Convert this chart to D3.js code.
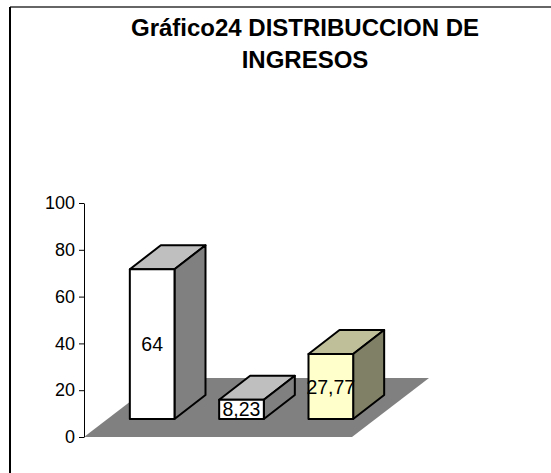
<!DOCTYPE html>
<html>
<head>
<meta charset="utf-8">
<script src="https://cdn.jsdelivr.net/npm/d3@7"></script>
<style>
  body { margin: 0; background: #fff; }
  svg { display: block; font-family: Arial, "Liberation Sans", sans-serif; }
</style>
</head>
<body>
<script>
const categories = ["A", "B", "C"];
const values = [64, 8.23, 27.77];
const labels = ["64", "8,23", "27,77"];
const tickValues = [0, 20, 40, 60, 80, 100];
const titleLines = ["Gráfico24 DISTRIBUCCION DE", "INGRESOS"];

const fronts = ["#ffffff", "#ffffff", "#ffffcc"];

const width = 551;
const height = 473;

// floor depth (back plane offset) and bar depth
const floorDx = 77, floorDy = -59;
const barOffX = 23.5, barOffY = -18;
const barDx = 31, barDy = -24;

const svg = d3.select("body").append("svg")
    .attr("width", width)
    .attr("height", height);

// frame (top and left only visible)
svg.append("line")
    .attr("x1", 10).attr("x2", width).attr("y1", 7).attr("y2", 7)
    .attr("stroke", "#333").attr("stroke-width", 1.5);
svg.append("line")
    .attr("x1", 10).attr("x2", 10).attr("y1", 7).attr("y2", height)
    .attr("stroke", "#000").attr("stroke-width", 2);

// title
svg.append("g")
    .selectAll("text")
    .data(titleLines)
    .join("text")
    .attr("x", 305)
    .attr("y", (d, i) => 36 + i * 32)
    .attr("text-anchor", "middle")
    .attr("font-weight", "bold")
    .attr("font-size", "24px")
    .text(d => d);

const x = d3.scaleBand()
    .domain(categories)
    .range([84, 352])
    .paddingInner(0.5)
    .paddingOuter(0.25);

const y = d3.scaleLinear()
    .domain([0, 100])
    .range([437, 203]);

// floor
const x0 = x.range()[0], x1 = x.range()[1], y0 = y(0);
svg.append("path")
    .attr("d", `M${x0},${y0}L${x1},${y0}L${x1 + floorDx},${y0 + floorDy}L${x0 + floorDx},${y0 + floorDy}Z`)
    .attr("fill", "#808080");

// axis
svg.append("g")
    .attr("transform", `translate(${x0},0)`)
    .call(d3.axisLeft(y).tickValues(tickValues).tickSize(5).tickSizeOuter(0).tickPadding(4))
    .call(g => g.selectAll("text").attr("font-size", "18px").attr("font-family", "Arial, 'Liberation Sans', sans-serif").attr("fill", "#000"))
    .call(g => g.selectAll("line, path").attr("stroke", "#000"));

// bars
const data = categories.map((c, i) => ({c, v: values[i], label: labels[i], color: fronts[i]}));

const bars = svg.append("g")
    .selectAll("g")
    .data(data)
    .join("g");

const shade = (col, k) => {
  const c = d3.rgb(col);
  return d3.rgb(c.r * k, c.g * k, c.b * k).formatHex();
};

bars.each(function(d) {
  const g = d3.select(this);
  const bx = x(d.c) + barOffX;
  const bw = x.bandwidth();
  const top = y(d.v) + barOffY;
  const bot = y(0) + barOffY;

  g.append("path")
      .attr("d", `M${bx},${top}L${bx + barDx},${top + barDy}L${bx + bw + barDx},${top + barDy}L${bx + bw},${top}Z`)
      .attr("fill", shade(d.color, 0.75));
  g.append("path")
      .attr("d", `M${bx + bw},${top}L${bx + bw + barDx},${top + barDy}L${bx + bw + barDx},${bot + barDy}L${bx + bw},${bot}Z`)
      .attr("fill", shade(d.color, 0.5));
  g.append("rect")
      .attr("x", bx).attr("y", top)
      .attr("width", bw).attr("height", bot - top)
      .attr("fill", d.color);
  g.selectAll("path, rect")
      .attr("stroke", "#000")
      .attr("stroke-width", 2)
      .attr("stroke-linejoin", "round");

  g.append("text")
      .attr("x", bx + bw / 2)
      .attr("y", (top + bot) / 2)
      .attr("dy", "0.36em")
      .attr("text-anchor", "middle")
      .attr("font-size", "19.5px")
      .text(d.label);
});
</script>
</body>
</html>
